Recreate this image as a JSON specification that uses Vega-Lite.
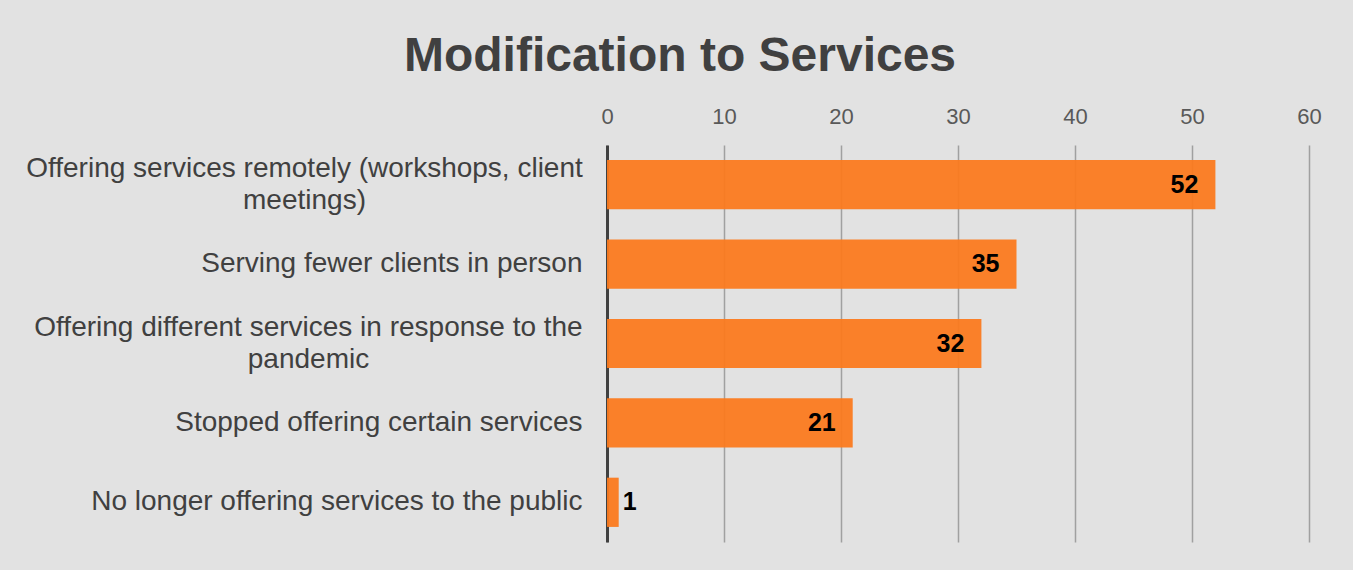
{
  "$schema": "https://vega.github.io/schema/vega-lite/v6.json",
  "autosize": {"type": "none"},
  "width": 702,
  "height": 397,
  "padding": {"left": 607, "top": 145, "right": 44, "bottom": 28},
  "background": "#e2e2e2",
  "config": {"view": {"stroke": null}, "font": "Liberation Sans"},
  "title": {
    "text": "Modification to Services",
    "fontSize": 48,
    "fontWeight": "bold",
    "color": "#404040",
    "font": "Liberation Sans",
    "anchor": "middle",
    "dx": -278,
    "offset": 24
  },
  "data": {
    "values": [
      {"label": "Offering services remotely (workshops, client|meetings)", "count": 52},
      {"label": "Serving fewer clients in person", "count": 35},
      {"label": "Offering different services in response to the|pandemic", "count": 32},
      {"label": "Stopped offering certain services", "count": 21},
      {"label": "No longer offering services to the public", "count": 1}
    ]
  },
  "encoding": {
    "y": {
      "field": "label",
      "type": "nominal",
      "sort": null,
      "scale": {"paddingInner": 0.38, "paddingOuter": 0.19},
      "axis": {
        "title": null,
        "ticks": false,
        "domainColor": "#404040",
        "domainWidth": 3,
        "labelFontSize": 28,
        "labelColor": "#404040",
        "labelLimit": 700,
        "labelLineHeight": 32,
        "labelExpr": "split(datum.value, '|')",
        "labelAlign": {"condition": {"test": "indexof(datum.value, '|') >= 0", "value": "center"}, "value": "right"},
        "labelOffset": {"condition": {"test": "indexof(datum.value, '|') >= 0", "value": -16}, "value": 0},
        "labelPadding": {
          "condition": [
            {"test": "indexof(datum.value, 'remotely') >= 0", "value": 303},
            {"test": "indexof(datum.value, 'pandemic') >= 0", "value": 299}
          ],
          "value": 25
        }
      }
    },
    "x": {
      "field": "count",
      "type": "quantitative",
      "scale": {"domain": [0, 60]},
      "axis": {
        "orient": "top",
        "title": null,
        "values": [0, 10, 20, 30, 40, 50, 60],
        "domain": false,
        "ticks": false,
        "labelFlush": false,
        "labelFontSize": 22,
        "labelColor": "#595959",
        "labelPadding": 17,
        "gridColor": "#a0a0a0",
        "gridWidth": 1.5
      }
    }
  },
  "layer": [
    {"mark": {"type": "bar", "color": "#fb7a1f", "opacity": 0.95}},
    {
      "transform": [{"filter": "datum.count >= 5"}],
      "mark": {"type": "text", "align": "right", "dx": -17, "fontSize": 25, "fontWeight": "bold", "color": "#000000"},
      "encoding": {"text": {"field": "count", "type": "quantitative"}}
    },
    {
      "transform": [{"filter": "datum.count < 5"}],
      "mark": {"type": "text", "align": "left", "dx": 4, "fontSize": 25, "fontWeight": "bold", "color": "#000000"},
      "encoding": {"text": {"field": "count", "type": "quantitative"}}
    }
  ]
}
